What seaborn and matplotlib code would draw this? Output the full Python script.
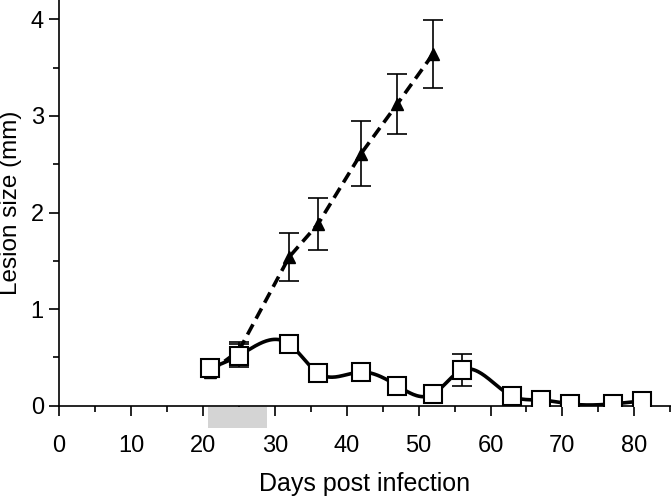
import numpy as np
import pandas as pd
import matplotlib
matplotlib.use("Agg")
import matplotlib.pyplot as plt
import seaborn as sns
from matplotlib.patches import Rectangle
from matplotlib.ticker import MultipleLocator

# --- Dados ---
days_tri = [21, 25, 32, 36, 42, 47, 52]
lesion_tri = [0.35, 0.57, 1.54, 1.88, 2.61, 3.12, 3.64]
err_tri = [0.03, 0.09, 0.25, 0.27, 0.34, 0.31, 0.35]

days_sq = [21, 25, 32, 36, 42, 47, 52, 56, 63, 67, 71, 77, 81]
lesion_sq = [0.39, 0.52, 0.64, 0.34, 0.35, 0.21, 0.12, 0.37, 0.10, 0.06, 0.02, 0.02, 0.05]
err_sq = [0.03, 0.12, 0.03, 0.02, 0.02, 0.02, 0.07, 0.17, 0.08, 0.02, 0.02, 0.02, 0.02]

treatment_days = (20.7, 28.9)


def natural_spline(x, y, n=400):
    # spline cúbica natural para a curva suavizada
    x = np.asarray(x, float)
    y = np.asarray(y, float)
    k = len(x)
    h = np.diff(x)
    A = np.zeros((k, k))
    b = np.zeros(k)
    A[0, 0] = A[-1, -1] = 1
    for i in range(1, k - 1):
        A[i, i - 1] = h[i - 1]
        A[i, i] = 2 * (h[i - 1] + h[i])
        A[i, i + 1] = h[i]
        b[i] = 6 * ((y[i + 1] - y[i]) / h[i] - (y[i] - y[i - 1]) / h[i - 1])
    M = np.linalg.solve(A, b)
    xs = np.linspace(x[0], x[-1], n)
    idx = np.clip(np.searchsorted(x, xs) - 1, 0, k - 2)
    x0, x1 = x[idx], x[idx + 1]
    hh = x1 - x0
    ys = (M[idx] * (x1 - xs) ** 3 / (6 * hh) + M[idx + 1] * (xs - x0) ** 3 / (6 * hh)
          + (y[idx] / hh - M[idx] * hh / 6) * (x1 - xs)
          + (y[idx + 1] / hh - M[idx + 1] * hh / 6) * (xs - x0))
    return xs, ys


sns.set_style("ticks")
plt.rcParams['font.family'] = ['Liberation Sans', 'DejaVu Sans']
plt.rcParams['axes.linewidth'] = 1.2
plt.rcParams['axes.edgecolor'] = 'black'
plt.rcParams['xtick.color'] = 'black'
plt.rcParams['ytick.color'] = 'black'
plt.rcParams['text.color'] = 'black'
plt.rcParams['axes.labelcolor'] = 'black'

fig = plt.figure(figsize=(6.71, 5.01), dpi=100)
ax = fig.add_axes([0.088, 0.19, 0.912, 0.81])

df_tri = pd.DataFrame({'day': days_tri, 'lesion': lesion_tri})
xs, ys = natural_spline(days_sq, lesion_sq)
df_curve = pd.DataFrame({'day': xs, 'lesion': ys})

# linha tracejada (triângulos)
sns.lineplot(data=df_tri, x='day', y='lesion', ax=ax, color='black', lw=2.6,
             linestyle=(0, (3.2, 1.8)), zorder=2)
ax.errorbar(days_tri, lesion_tri, yerr=err_tri, fmt='^', color='black', ms=9,
            ecolor='black', elinewidth=1.2, capsize=7, capthick=1.2, zorder=3)

# curva suavizada (quadrados)
sns.lineplot(data=df_curve, x='day', y='lesion', ax=ax, color='black', lw=2.6, zorder=4)
ax.errorbar(days_sq, lesion_sq, yerr=err_sq, fmt='none', ecolor='black',
            elinewidth=1.2, capsize=7, capthick=1.2, zorder=5)
ax.plot(days_sq, lesion_sq, 's', ms=13, mfc='white', mec='black', mew=1.5, zorder=6)

# barra cinza do período de tratamento
ax.add_patch(Rectangle((treatment_days[0], -0.23), treatment_days[1] - treatment_days[0], 0.22,
                       facecolor='#d4d4d4', edgecolor='none', clip_on=False, zorder=1))

ax.set_xlim(0, 85.1)
ax.set_ylim(0, 4.2)
ax.xaxis.set_major_locator(MultipleLocator(10))
ax.xaxis.set_minor_locator(MultipleLocator(5))
ax.yaxis.set_major_locator(MultipleLocator(1))
ax.yaxis.set_minor_locator(MultipleLocator(0.5))
ax.tick_params(which='major', direction='out', length=7, width=1.2, labelsize=17, pad=14)
ax.tick_params(which='minor', direction='out', length=4, width=1.2)
ax.tick_params(axis='y', pad=4)
sns.despine(ax=ax)
ax.set_xlabel('Days post infection', fontsize=18, labelpad=11)
ax.set_ylabel('Lesion size (mm)', fontsize=17.5, labelpad=6)

fig.savefig('out.png', dpi=100)
